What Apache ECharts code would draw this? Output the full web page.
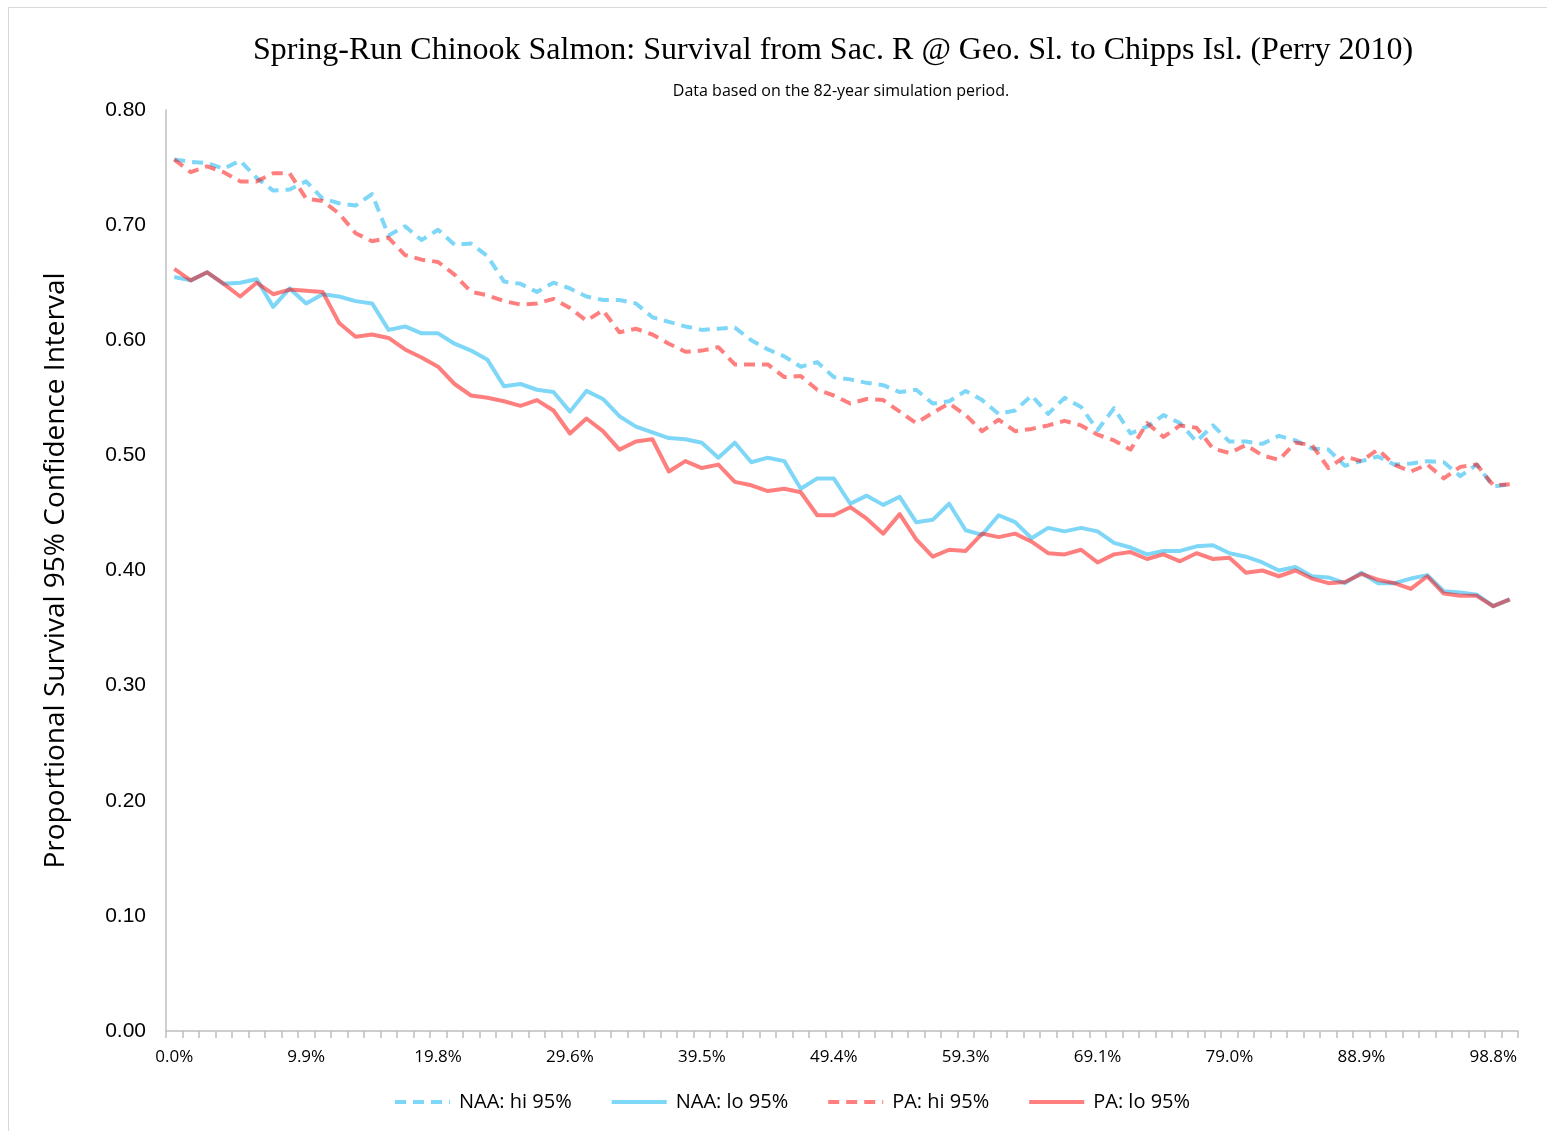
<!DOCTYPE html>
<html>
<head>
<meta charset="utf-8">
<script src="https://cdn.jsdelivr.net/npm/echarts@6/dist/echarts.min.js"></script>
<style>
html,body{margin:0;padding:0;background:#fff;}
#chart{width:1547px;height:1131px;}
</style>
</head>
<body>
<div id="chart"></div>
<script>
var categories = ['0.0%','1.2%','2.5%','3.7%','4.9%','6.2%','7.4%','8.6%','9.9%','11.1%','12.3%','13.6%','14.8%','16.0%','17.3%','18.5%','19.8%','21.0%','22.2%','23.5%','24.7%','25.9%','27.2%','28.4%','29.6%','30.9%','32.1%','33.3%','34.6%','35.8%','37.0%','38.3%','39.5%','40.7%','42.0%','43.2%','44.4%','45.7%','46.9%','48.1%','49.4%','50.6%','51.9%','53.1%','54.3%','55.6%','56.8%','58.0%','59.3%','60.5%','61.7%','63.0%','64.2%','65.4%','66.7%','67.9%','69.1%','70.4%','71.6%','72.8%','74.1%','75.3%','76.5%','77.8%','79.0%','80.2%','81.5%','82.7%','84.0%','85.2%','86.4%','87.7%','88.9%','90.1%','91.4%','92.6%','93.8%','95.1%','96.3%','97.5%','98.8%','100.0%'];

var naaHi = [0.757,0.755,0.754,0.749,0.756,0.741,0.730,0.731,0.738,0.723,0.719,0.717,0.727,0.691,
  0.699,0.687,0.696,0.683,0.684,0.673,0.651,0.649,0.642,0.650,0.645,0.638,0.635,
  0.635,0.632,0.620,0.616,0.612,0.609,0.610,0.611,0.600,0.592,0.586,0.577,0.581,0.568,
  0.566,0.563,0.561,0.555,0.557,0.545,0.547,0.556,0.548,0.536,0.539,0.552,0.536,
  0.550,0.542,0.522,0.541,0.519,0.525,0.535,0.528,0.512,0.526,0.512,0.512,0.510,
  0.517,0.513,0.506,0.505,0.491,0.495,0.499,0.492,0.493,0.495,0.494,0.482,0.492,0.473,0.475];

var naaLo = [0.655,0.652,0.659,0.649,0.650,0.653,0.629,0.645,0.632,0.640,0.638,0.634,0.632,0.609,
  0.612,0.606,0.606,0.597,0.591,0.583,0.560,0.562,0.557,0.555,0.538,0.556,0.549,
  0.534,0.525,0.520,0.515,0.514,0.511,0.498,0.511,0.494,0.498,0.495,0.471,0.480,0.480,
  0.458,0.465,0.457,0.464,0.442,0.444,0.458,0.435,0.431,0.448,0.442,0.428,0.437,
  0.434,0.437,0.434,0.424,0.420,0.414,0.417,0.417,0.421,0.422,0.415,0.412,0.407,
  0.400,0.403,0.395,0.394,0.389,0.398,0.389,0.389,0.393,0.396,0.382,0.381,0.379,0.369,0.375];

var paHi = [0.757,0.746,0.751,0.746,0.738,0.738,0.745,0.745,0.723,0.721,0.710,0.693,0.686,0.689,
  0.674,0.670,0.668,0.657,0.642,0.639,0.634,0.631,0.632,0.636,0.628,0.617,0.626,
  0.607,0.610,0.605,0.597,0.590,0.591,0.594,0.579,0.579,0.579,0.568,0.569,0.557,0.552,
  0.545,0.549,0.548,0.538,0.528,0.537,0.545,0.535,0.521,0.531,0.521,0.523,0.526,
  0.530,0.526,0.518,0.513,0.505,0.528,0.516,0.526,0.524,0.506,0.502,0.509,0.500,
  0.496,0.511,0.509,0.489,0.499,0.495,0.505,0.492,0.486,0.492,0.480,0.490,0.492,0.474,0.475];

var paLo = [0.662,0.652,0.659,0.649,0.638,0.650,0.640,0.644,0.643,0.642,0.615,0.603,0.605,0.602,
  0.592,0.585,0.577,0.562,0.552,0.550,0.547,0.543,0.548,0.539,0.519,0.532,0.521,
  0.505,0.512,0.514,0.486,0.495,0.489,0.492,0.477,0.474,0.469,0.471,0.468,0.448,0.448,
  0.455,0.445,0.432,0.449,0.427,0.412,0.418,0.417,0.432,0.429,0.432,0.425,0.415,
  0.414,0.418,0.407,0.414,0.416,0.410,0.414,0.408,0.415,0.410,0.411,0.398,0.400,
  0.395,0.400,0.393,0.389,0.390,0.397,0.392,0.389,0.384,0.395,0.380,0.378,0.378,0.369,0.375];

var seriesNames = ['NAA: hi 95%','NAA: lo 95%','PA: hi 95%','PA: lo 95%'];
var yTicks = [0,0.1,0.2,0.3,0.4,0.5,0.6,0.7,0.8];

var BLUE = 'rgba(0,176,240,0.5)';
var RED = 'rgba(255,0,0,0.5)';
var DASH = [11,7];

var chart = echarts.init(document.getElementById('chart'), null, {renderer:'canvas'});

function mk(name, data, color, dashed){
  return {
    name: name, type: 'line', data: data,
    showSymbol: false, symbol: 'none', smooth: false,
    lineStyle: {color: color, width: 4, type: dashed ? DASH : 'solid', cap: 'butt', join: 'round'},
    itemStyle: {color: 'rgba(0,0,0,0)', borderWidth: 0},
    emphasis: {disabled: true},
    animation: false
  };
}

chart.setOption({
  backgroundColor: '#ffffff',
  animation: false,
  graphic: [{
    type: 'rect', silent: true,
    shape: {x: 8.5, y: 7.5, width: 1600, height: 1200},
    style: {fill: 'none', stroke: '#d9d9d9', lineWidth: 1}
  }],
  title: [{
    text: 'Spring-Run Chinook Salmon: Survival from Sac. R @ Geo. Sl. to Chipps Isl. (Perry 2010)',
    left: 828, top: 30, textAlign: 'center',
    textStyle: {fontFamily: '"Liberation Serif", "DejaVu Serif", serif', fontSize: 32, fontWeight: 'normal', color: '#000'}
  },{
    text: 'Data based on the 82-year simulation period.',
    left: 836, top: 78, textAlign: 'center',
    textStyle: {fontFamily: '"Open Sans", "Noto Sans", sans-serif', fontSize: 16, fontWeight: 'normal', color: '#000'}
  }],
  legend: {
    data: seriesNames,
    bottom: 14, left: 388,
    itemWidth: 55, itemHeight: 14, itemGap: 38,
    itemStyle: {opacity: 0},
    lineStyle: {width: 4},
    textStyle: {fontFamily: '"Open Sans", "Noto Sans", sans-serif', fontSize: 20, color: '#000', padding: [0,0,0,4]}
  },
  grid: {left: 166, right: 29, top: 110, bottom: 100, containLabel: false},
  xAxis: {
    type: 'category', data: categories, boundaryGap: true,
    axisLine: {show: true, lineStyle: {color: '#bfbfbf', width: 1.5}},
    axisTick: {show: true, interval: 0, length: 7, lineStyle: {color: '#bfbfbf', width: 1.5}},
    axisLabel: {interval: 7, margin: 18, color: '#000', fontSize: 17, fontFamily: '"Open Sans", "Noto Sans", sans-serif'},
    splitLine: {show: false}
  },
  yAxis: {
    type: 'value', min: yTicks[0], max: yTicks[yTicks.length-1], interval: 0.1,
    name: 'Proportional Survival 95% Confidence Interval',
    nameLocation: 'middle', nameRotate: 90, nameGap: 96,
    nameTextStyle: {fontFamily: '"Open Sans", "Noto Sans", sans-serif', fontSize: 28, color: '#000'},
    axisLine: {show: true, lineStyle: {color: '#bfbfbf', width: 1.5}},
    axisTick: {show: false},
    splitLine: {show: false},
    axisLabel: {margin: 20, color: '#000', fontSize: 21, fontFamily: '"Liberation Sans", Arial, sans-serif',
      formatter: function(v){ return v.toFixed(2); }}
  },
  series: [
    mk(seriesNames[0], naaHi, BLUE, true),
    mk(seriesNames[1], naaLo, BLUE, false),
    mk(seriesNames[2], paHi, RED, true),
    mk(seriesNames[3], paLo, RED, false)
  ]
});
</script>
</body>
</html>
